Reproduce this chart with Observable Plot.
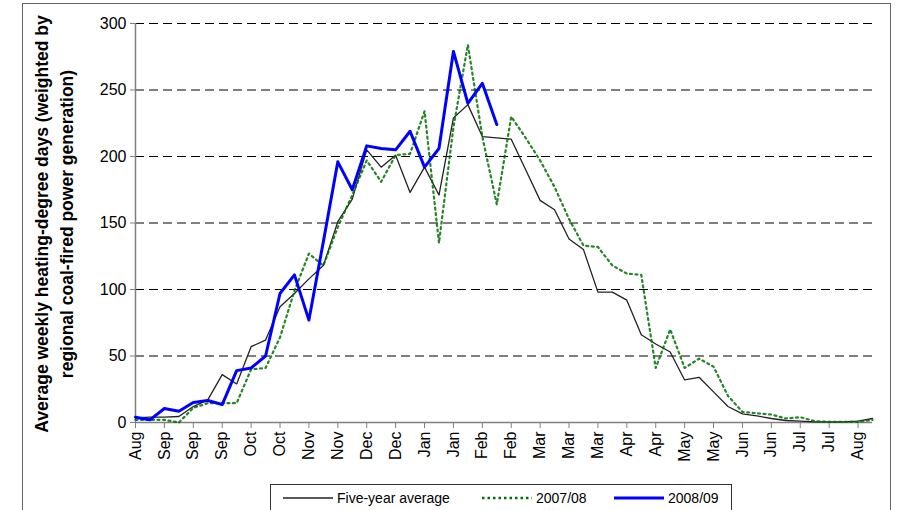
<!DOCTYPE html>
<html>
<head>
<meta charset="utf-8">
<script src="https://cdn.jsdelivr.net/npm/d3@7"></script>
<script src="https://cdn.jsdelivr.net/npm/@observablehq/plot@0.6"></script>
<style>
  html, body { margin: 0; padding: 0; background: #fff; }
  #wrap { position: relative; width: 898px; height: 510px; overflow: hidden; font-family: 'Liberation Sans', Arial, sans-serif; }
  #frame { position: absolute; left: 22px; top: 3px; width: 869px; height: 530px; border: 1px solid #666; box-sizing: border-box; }
  #chart { position: absolute; left: 0; top: 0; }
  #legend { position: absolute; left: 270px; top: 484px; width: 462px; height: 40px; border: 1px solid #333; box-sizing: border-box; background: #fff; font-size: 14px; color: #000; }
  .item { position: absolute; top: 4px; display: flex; align-items: center; white-space: nowrap; }
  .item svg { margin-right: 4px; }
</style>
</head>
<body>
<div id="wrap">
  <div id="frame"></div>
  <div id="chart"></div>
  <div id="legend"></div>
</div>
<script>
// Week index 0..51 (Aug to Aug), tick labels every second week
const tickLabels = ["Aug","Sep","Sep","Sep","Oct","Oct","Nov","Nov","Dec","Dec","Jan","Jan","Feb","Feb","Mar","Mar","Mar","Apr","Apr","May","May","Jun","Jun","Jul","Jul","Aug"];

const fiveYearAverage = [3.5, 4, 4, 4.5, 12, 17, 36, 29, 57, 62, 87, 97, 108, 118, 151, 168, 205, 192, 201, 173, 192, 171, 229, 239, 215, 214, 213, 190, 167, 160, 138, 130, 98, 98, 92, 66, 59, 53, 32, 34, 23, 12, 6.5, 5, 3, 1.5, 1, 0.5, 0.5, 0.5, 1, 3];

const season2007 = [2, 2, 2, 0, 11, 14.5, 14.5, 14.5, 40, 41, 64, 99, 127, 118, 147, 171, 197, 181, 201, 202, 234, 135, 222, 284, 215, 164, 230, 214, 197, 177, 153, 133, 132, 118, 112, 111, 41, 70, 41, 48, 42, 20, 8, 7, 6, 3, 4, 1, 0.5, 0.5, 0.5, 2];

const season2008 = [4, 2, 10.5, 8.5, 15, 16.5, 13.5, 39, 41, 50, 97, 111, 77, 136, 196, 175, 208, 206, 205, 219, 192, 206, 279, 240, 255, 224];

const yTicks = [0, 50, 100, 150, 200, 250, 300];

const seriesNames = ["Five-year average", "2007/08", "2008/09"];

const toRows = (arr, name) => arr.map((v, i) => ({week: i, value: v, series: name}));
const rowsAvg = toRows(fiveYearAverage, seriesNames[0]);
const rows2007 = toRows(season2007, seriesNames[1]);
const rows2008 = toRows(season2008, seriesNames[2]);
const xTicks = tickLabels.map((_, k) => k * 2);

const plot = Plot.plot({
  width: 898,
  height: 482,
  marginLeft: 135,
  marginRight: 26,
  marginTop: 23,
  marginBottom: 60,
  x: {domain: [0, 51]},
  y: {domain: [0, 300]},
  style: {fontFamily: "'Liberation Sans', Arial, sans-serif", fontSize: "16px", color: "#000", background: "transparent", overflow: "visible"},
  marks: [
    Plot.gridY(yTicks.filter(d => d > 0), {stroke: "#000", strokeOpacity: 1, strokeWidth: 1, strokeDasharray: "9,5"}),
    Plot.axisY({ticks: yTicks, tickSize: 5, tickPadding: 4, label: null, stroke: "#808080", fill: "#000"}),
    Plot.axisX({ticks: xTicks, tickFormat: d => tickLabels[d / 2], tickRotate: -90, tickSize: 6, tickPadding: 3, label: null, stroke: "#808080", fill: "#000"}),
    Plot.ruleX([0], {stroke: "#808080", strokeWidth: 1.5}),
    Plot.ruleY([0], {stroke: "#808080", strokeWidth: 1.5}),
    Plot.line(rowsAvg, {x: "week", y: "value", stroke: "#222", strokeWidth: 1.3}),
    Plot.line(rows2007, {x: "week", y: "value", stroke: "#007000", strokeWidth: 2.2, strokeOpacity: 0.85, strokeDasharray: "2,3.5"}),
    Plot.line(rows2008, {x: "week", y: "value", stroke: "#0000ff", strokeWidth: 3})
  ]
});

document.getElementById("chart").appendChild(plot);

// two-line y-axis title
const svg = d3.select(plot);
const titleLines = ["Average weekly heating-degree days (weighted by", "regional coal-fired power generation)"];
const titleX = [42, 67];
titleLines.forEach((t, k) => {
  svg.append("text")
    .attr("transform", `translate(${titleX[k]},224) rotate(-90)`)
    .attr("text-anchor", "middle")
    .attr("dominant-baseline", "central")
    .attr("font-family", "'Liberation Sans', Arial, sans-serif")
    .attr("font-size", 17.5)
    .attr("font-weight", "bold")
    .attr("fill", "#000")
    .text(t);
});

// legend
const legendItems = [
  {name: seriesNames[0], left: 12, color: "#222", width: 1.3, dash: null},
  {name: seriesNames[1], left: 211, color: "#007000", width: 2.6, dash: "2.5,3"},
  {name: seriesNames[2], left: 343, color: "#0000ff", width: 3, dash: null}
];
const legend = d3.select("#legend");
legendItems.forEach(it => {
  const div = legend.append("div").attr("class", "item").style("left", it.left + "px");
  const s = div.append("svg").attr("width", 50).attr("height", 18);
  s.append("line").attr("x1", 0).attr("x2", 50).attr("y1", 9).attr("y2", 9)
    .attr("stroke", it.color).attr("stroke-width", it.width)
    .attr("stroke-dasharray", it.dash);
  div.append("span").text(it.name);
});
</script>
</body>
</html>
